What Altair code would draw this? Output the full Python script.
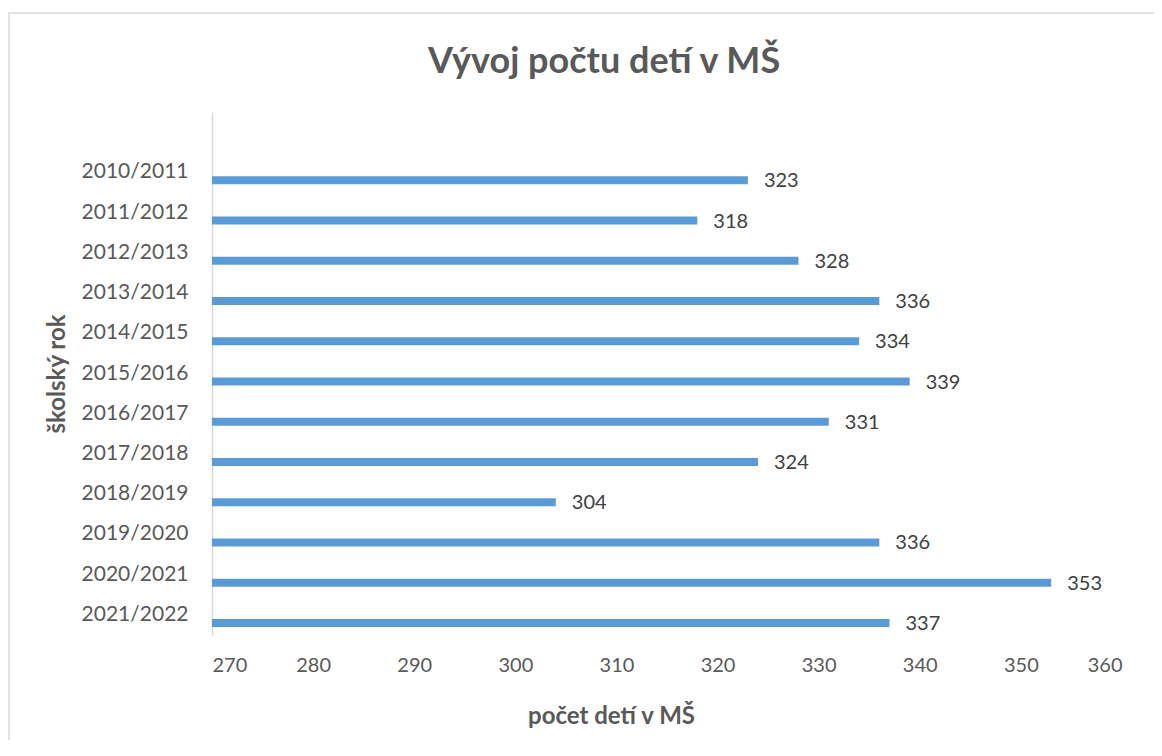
import altair as alt
import pandas as pd

roky = ["2010/2011", "2011/2012", "2012/2013", "2013/2014", "2014/2015", "2015/2016",
        "2016/2017", "2017/2018", "2018/2019", "2019/2020", "2020/2021", "2021/2022"]
pocty = [323, 318, 328, 336, 334, 339, 331, 324, 304, 336, 353, 337]
x_ticks = [270, 280, 290, 300, 310, 320, 330, 340, 350, 360]
nadpis = "Vývoj počtu detí v MŠ"

df = pd.DataFrame({"rok": roky, "pocet": pocty})

FONT = "Lato"
BAR = "#5B9BD5"
GRAY = "#595959"

y_domain = [" "] + roky

x_enc = alt.X("pocet:Q",
              scale=alt.Scale(domain=[270, 360], nice=False, zero=False, clamp=True),
              axis=alt.Axis(values=x_ticks, grid=False, ticks=False, domain=False,
                            labelFont=FONT, labelFontSize=20, labelColor=GRAY,
                            labelPadding=20,
                            title="počet detí v MŠ", titleFont=FONT, titleFontSize=24,
                            titleFontWeight="bold", titleColor=GRAY,
                            titleX=399, titleY=88, titleBaseline="alphabetic",
                            titleAnchor="middle", titleAlign="center"))
y_enc = alt.Y("rok:N",
              scale=alt.Scale(domain=y_domain, paddingInner=0, paddingOuter=0),
              axis=alt.Axis(grid=False, ticks=False, domain=True, domainColor="#D9D9D9",
                            domainWidth=1.5,
                            labelFont=FONT, labelFontSize=21, labelColor=GRAY,
                            labelPadding=24,
                            title="školský rok", titleFont=FONT, titleFontSize=24,
                            titleFontWeight="bold", titleColor=GRAY,
                            titleX=-143, titleBaseline="bottom"))

bars = alt.Chart(df).mark_bar(color=BAR, size=8, yOffset=8).encode(x=x_enc, y=y_enc)

labels = alt.Chart(df).mark_text(align="left", baseline="middle", dx=16, yOffset=9,
                                 font=FONT, fontSize=20, color="#404040").encode(
    x="pocet:Q", y=alt.Y("rok:N"), text="pocet:Q")

frame = alt.Chart(alt.Data(values=[{}])).mark_rect(
    fill=None, stroke="#D9D9D9", strokeWidth=1.5).encode(
    x=alt.value(-203), x2=alt.value(1300), y=alt.value(-99), y2=alt.value(900))

title = alt.Chart(alt.Data(values=[{"t": nadpis}])).mark_text(
    font=FONT, fontSize=36, fontWeight="bold", color=GRAY,
    align="center", baseline="alphabetic").encode(
    x=alt.value(392), y=alt.value(-39), text="t:N")

chart = alt.layer(frame, title, bars, labels).properties(
    width=910, height=523,
    background="white",
    autosize=alt.AutoSizeParams(type="none"),
    padding={"left": 204, "top": 104, "right": 32, "bottom": 105},
).configure_view(strokeWidth=0, stroke="transparent")

chart.save("out.html", embed_options={"renderer": "svg", "actions": False})
